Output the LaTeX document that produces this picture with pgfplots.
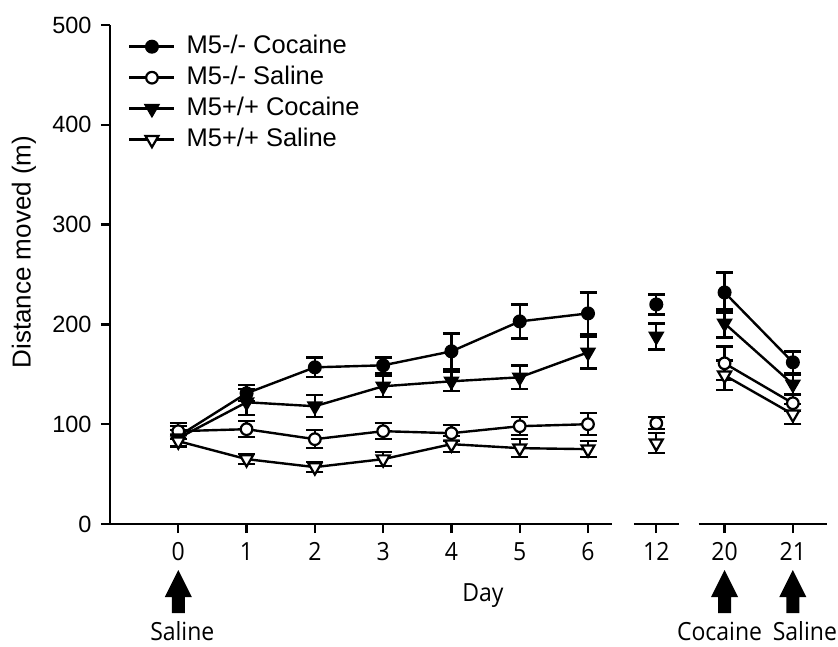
\documentclass[border=0pt]{standalone}
\usepackage{pgfplots}
\pgfplotsset{compat=1.18}
\usepackage{fontspec}
\setmainfont{Liberation Sans}
\newfontfamily\dayfont[FakeStretch=0.92]{Open Sans}

% Distance moved per session; x = session slot (0..6 = days 0-6, 7 = day 12, 8 = day 20, 9 = day 21)
\pgfplotstableread{
x y e
0 88 10
1 131 8
2 157 10
3 159 8
4 173 18
5 203 17
6 211 21
6.5 nan 0
7 220 10
7.5 nan 0
8 232 20
9 162 11
}\koCoc
\pgfplotstableread{
x y e
0 93 8
1 95 8
2 85 9
3 93 8
4 91 8
5 98 9
6 100 11
6.5 nan 0
7 101 6
7.5 nan 0
8 161 17
9 121 8
}\koSal
\pgfplotstableread{
x y e
0 86 8
1 122 13
2 118 11
3 138 11
4 143 10
5 147 12
6 172 16
6.5 nan 0
7 188 13
7.5 nan 0
8 201 14
9 140 10
}\wtCoc
\pgfplotstableread{
x y e
0 83 6
1 65 5
2 57 5
3 65 7
4 80 8
5 76 9
6 75 8
6.5 nan 0
7 81 10
7.5 nan 0
8 149 15
9 110 10
}\wtSal

\newcommand{\injarrow}[1]{%
  \fill ([yshift=-46pt]axis cs:#1,0) -- ++(13.5pt,-27pt) -- ++(-7pt,0pt) -- ++(0pt,-16pt)
    -- ++(-13pt,0pt) -- ++(0pt,16pt) -- ++(-7pt,0pt) -- cycle;}

\begin{document}
\begin{tikzpicture}
\path[use as bounding box] (0pt,0pt) rectangle (838pt,646pt);
\begin{axis}[
  at={(110pt,122pt)}, anchor=south west,
  scale only axis, width=717pt, height=499pt,
  xmin=-1, xmax=9.5, ymin=0, ymax=500,
  clip=false,
  axis y line=left, axis x line=bottom,
  axis line style={-, line width=2.4pt},
  x axis line style={draw=none},
  tick align=outside, major tick length=9pt,
  tick style={line width=2.4pt, black},
  ytick={0,100,...,500},
  xtick={0,...,9},
  xticklabels={0,1,2,3,4,5,6,12,20,21},
  /pgf/number format/assume math mode=true,
  yticklabel style={font=\fontsize{23.5}{28}\selectfont, xshift=-6pt},
  xticklabel style={font=\dayfont\fontsize{25}{30}\selectfont, yshift=-6pt},
  ylabel={Distance moved (m)},
  ylabel style={at={(axis description cs:-0.12,0.545)}, anchor=center, rotate=0,
    font=\fontsize{26}{31}\selectfont},
  unbounded coords=jump,
  error bars/error bar style={line width=2.4pt, black},
  error bars/error mark options={rotate=90, mark size=8.5pt, line width=2.4pt, black},
  legend style={at={(0.021,0.988)}, anchor=north west, draw=none, fill=none,
    font=\fontsize{25.5}{30}\selectfont, row sep=4pt,
    nodes={inner sep=2pt, text height=18pt, text depth=5pt},
    /tikz/every odd column/.append style={column sep=9pt}},
  legend cell align=left,
  legend image code/.code={\draw[mark repeat=2, mark phase=2]
    plot coordinates {(0pt,0pt) (22.5pt,0pt) (45pt,0pt)};},
]
\addplot[black, line width=2.4pt, mark=*, mark size=6pt,
  mark options={solid, draw=black, fill=black, line width=2pt},
  error bars/.cd, y dir=both, y explicit]
  table[x=x, y=y, y error=e] {\koCoc};
\addlegendentry{M5-/- Cocaine}
\addplot[black, line width=2.4pt, mark=*, mark size=5.8pt,
  mark options={solid, draw=black, fill=white, line width=2.2pt},
  error bars/.cd, y dir=both, y explicit]
  table[x=x, y=y, y error=e] {\koSal};
\addlegendentry{M5-/- Saline}
\addplot[black, line width=2.4pt, mark=triangle*, mark size=7.5pt,
  mark options={solid, rotate=180, draw=black, fill=black, line width=2pt},
  error bars/.cd, y dir=both, y explicit]
  table[x=x, y=y, y error=e] {\wtCoc};
\addlegendentry{M5+/+ Cocaine}
\addplot[black, line width=2.4pt, mark=triangle*, mark size=7.5pt,
  mark options={solid, rotate=180, draw=black, fill=white, line width=2.2pt},
  error bars/.cd, y dir=both, y explicit]
  table[x=x, y=y, y error=e] {\wtSal};
\addlegendentry{M5+/+ Saline}

% broken x axis
\draw[line width=2.4pt] (axis cs:-1.09,0) -- (axis cs:6.35,0);
\draw[line width=2.4pt] (axis cs:6.67,0) -- (axis cs:7.33,0);
\draw[line width=2.4pt] (axis cs:7.62,0) -- (axis cs:9.5,0);

% injection markers
\injarrow{0}
\injarrow{8}
\injarrow{9}
\node[font=\dayfont\fontsize{25}{30}\selectfont] at ([yshift=-72pt]axis cs:4.46,0) {Day};
\node[font=\dayfont\fontsize{25}{30}\selectfont] at ([xshift=4pt,yshift=-107pt]axis cs:0,0) {Saline};
\node[font=\dayfont\fontsize{25}{30}\selectfont] at ([xshift=-5pt,yshift=-107pt]axis cs:8,0) {Cocaine};
\node[font=\dayfont\fontsize{25}{30}\selectfont] at ([xshift=12pt,yshift=-107pt]axis cs:9,0) {Saline};
\end{axis}
\end{tikzpicture}
\end{document}
